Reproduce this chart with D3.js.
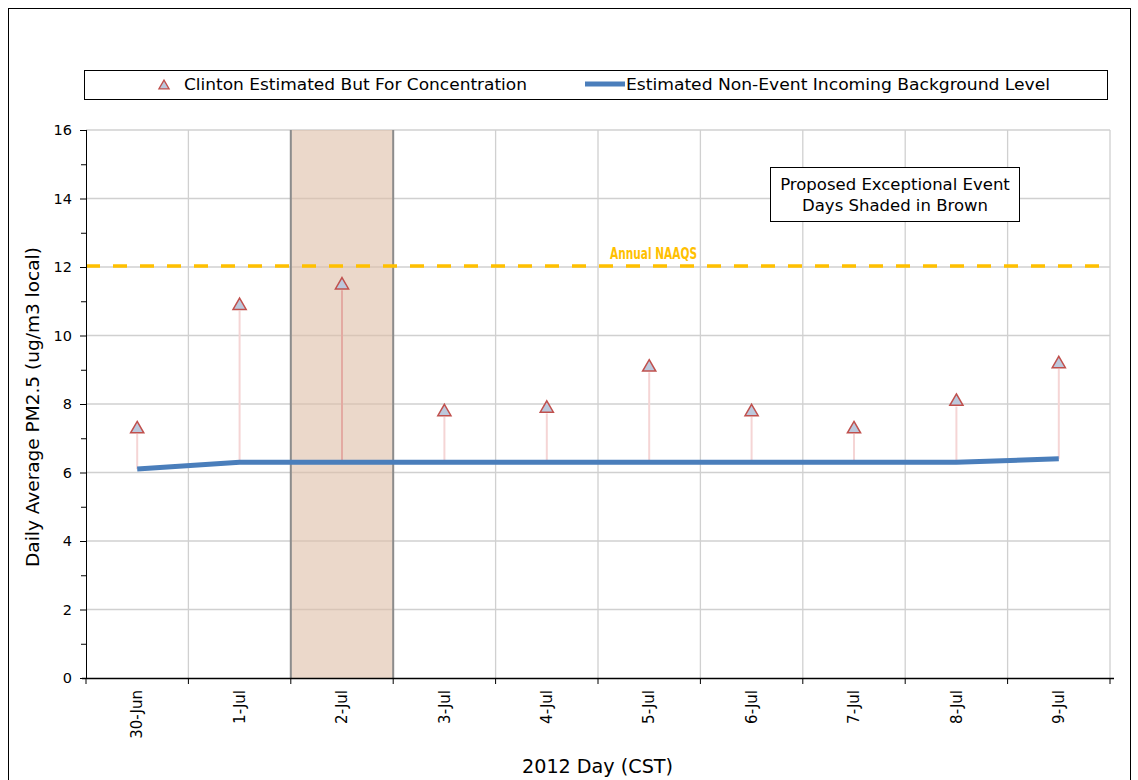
<!DOCTYPE html>
<html><head><meta charset="utf-8">
<script src="https://cdn.jsdelivr.net/npm/d3@7"></script>
<style>body{margin:0;background:#fff}svg{display:block}</style>
</head><body>
<svg id="c" width="1138" height="780"></svg>
<script>
const days = ["30-Jun","1-Jul","2-Jul","3-Jul","4-Jul","5-Jul","6-Jul","7-Jul","8-Jul","9-Jul"];
const butFor = [7.3, 10.9, 11.5, 7.8, 7.9, 9.1, 7.8, 7.3, 8.1, 9.2];
const background = [6.1, 6.3, 6.3, 6.3, 6.3, 6.3, 6.3, 6.3, 6.3, 6.4];
const eventDays = ["2-Jul"];
const naaqs = 12;
const yTicks = [0,2,4,6,8,10,12,14,16];

const svg = d3.select("#c");
const font = "Verdana, 'DejaVu Sans', sans-serif";
const cond = "'DejaVu Sans Condensed', 'DejaVu Sans', sans-serif";
const L = 86, R = 1110, T = 130, B = 678;

svg.append("rect").attr("x",8.5).attr("y",8.5).attr("width",1122).attr("height",790)
  .attr("fill","none").attr("stroke","#000").attr("stroke-width",1);

const x = d3.scaleBand().domain(days).range([L,R]).padding(0);
const y = d3.scaleLinear().domain([0,16]).range([B,T]);

// grid
svg.append("g").selectAll("line").data(yTicks.filter(d=>d>0)).join("line")
  .attr("x1",L).attr("x2",R).attr("y1",d=>y(d)).attr("y2",d=>y(d))
  .attr("stroke","#d0d0d0").attr("stroke-width",1.3);
svg.append("g").selectAll("line").data(d3.range(1,days.length+1)).join("line")
  .attr("x1",i=>L+i*x.bandwidth()).attr("x2",i=>L+i*x.bandwidth())
  .attr("y1",T).attr("y2",B).attr("stroke","#d0d0d0").attr("stroke-width",1.3);

// event shading
svg.append("g").selectAll("rect").data(eventDays).join("rect")
  .attr("x",d=>x(d)).attr("y",T).attr("width",x.bandwidth()).attr("height",B-T)
  .attr("fill","rgba(222,190,166,0.6)");
svg.append("g").selectAll("g").data(eventDays).join("g").each(function(d){
  const g = d3.select(this);
  [x(d), x(d)+x.bandwidth()].forEach(px=>g.append("line").attr("x1",px).attr("x2",px)
    .attr("y1",T).attr("y2",B).attr("stroke","#8c8c8c").attr("stroke-width",2));
});

// NAAQS
svg.append("line").attr("x1",L).attr("x2",R).attr("y1",y(naaqs)-1).attr("y2",y(naaqs)-1)
  .attr("stroke","#ffc000").attr("stroke-width",3.5).attr("stroke-dasharray","14,13");
svg.append("text").attr("x",610).attr("y",y(naaqs)-8)
  .attr("font-family",cond).attr("font-weight","bold").attr("font-size",15)
  .attr("textLength",87).attr("lengthAdjust","spacingAndGlyphs")
  .attr("fill","#ffc000").text("Annual NAAQS");

// drop lines
const cx = d => x(d)+x.bandwidth()/2;
svg.append("g").selectAll("line").data(days).join("line")
  .attr("x1",cx).attr("x2",cx)
  .attr("y1",(d,i)=>y(butFor[i])+6).attr("y2",(d,i)=>y(background[i]))
  .attr("stroke",d=>eventDays.includes(d)?"#e3aaa2":"#f5d5d5").attr("stroke-width",2);

// background line
svg.append("path").datum(days).attr("fill","none")
  .attr("stroke","#4a7ebb").attr("stroke-width",5)
  .attr("d",d3.line().x(cx).y((d,i)=>y(background[i])));

// triangles
const tri = d3.symbol().type(d3.symbolTriangle).size(75);
svg.append("g").selectAll("path").data(days).join("path")
  .attr("d",tri).attr("transform",(d,i)=>`translate(${cx(d)},${y(butFor[i])+1})`)
  .attr("fill","#bcc8dc").attr("stroke","#c0504d").attr("stroke-width",1.5);

// axes
const yAxis = svg.append("g").attr("transform",`translate(${L},0)`)
  .call(d3.axisLeft(y).tickValues(yTicks).tickSize(6).tickPadding(8).tickFormat(d3.format("d")));
yAxis.append("g").selectAll("line").data(d3.range(1,16,2)).join("line")
  .attr("x1",-5).attr("x2",0).attr("y1",d=>y(d)+0.5).attr("y2",d=>y(d)+0.5).attr("stroke","#000");
yAxis.selectAll("text").attr("font-family",font).attr("font-size",14.5).attr("fill","#000");
yAxis.select(".domain").attr("d",`M0.5,${T}V${B}`);

const xAxis = svg.append("g").attr("transform",`translate(0,${B})`)
  .call(d3.axisBottom(x).tickSize(0).tickPadding(0));
xAxis.select(".domain").attr("d",`M${L-4},0.5H${R+4}`).attr("stroke-width",1.5);
xAxis.selectAll(".tick line").remove();
xAxis.selectAll(".tick text").attr("transform","rotate(-90)").attr("text-anchor","end")
  .attr("x",-12).attr("y",0).attr("dy","0.35em")
  .attr("font-family",font).attr("font-size",15).attr("fill","#000");
svg.append("g").selectAll("line").data(d3.range(days.length+1)).join("line")
  .attr("x1",i=>L+i*x.bandwidth()).attr("x2",i=>L+i*x.bandwidth())
  .attr("y1",B).attr("y2",B+6).attr("stroke","#000");

// axis titles
svg.append("text").attr("transform",`translate(39,${(T+B)/2+3}) rotate(-90)`)
  .attr("text-anchor","middle").attr("font-family",font).attr("font-size",18.5)
  .text("Daily Average PM2.5 (ug/m3 local)");
svg.append("text").attr("x",522).attr("y",773)
  .attr("font-family",cond).attr("font-size",20)
  .attr("textLength",151).attr("lengthAdjust","spacingAndGlyphs").text("2012 Day (CST)");

// legend
const lg = svg.append("g");
lg.append("rect").attr("x",84.5).attr("y",70.5).attr("width",1023).attr("height",29)
  .attr("fill","#fff").attr("stroke","#000").attr("stroke-width",1);
lg.append("path").attr("d",d3.symbol().type(d3.symbolTriangle).size(45))
  .attr("transform","translate(164,86)").attr("fill","#bcc8dc").attr("stroke","#c0504d").attr("stroke-width",1.3);
lg.append("text").attr("x",184).attr("y",89.5).attr("font-family",cond)
  .attr("font-size",16).attr("textLength",343).attr("lengthAdjust","spacingAndGlyphs")
  .text("Clinton Estimated But For Concentration");
lg.append("line").attr("x1",585).attr("x2",625).attr("y1",84).attr("y2",84)
  .attr("stroke","#4a7ebb").attr("stroke-width",5);
lg.append("text").attr("x",626).attr("y",89.5).attr("font-family",cond)
  .attr("font-size",16).attr("textLength",424).attr("lengthAdjust","spacingAndGlyphs")
  .text("Estimated Non-Event Incoming Background Level");

// annotation
const an = svg.append("g");
an.append("rect").attr("x",770.5).attr("y",167.5).attr("width",249).attr("height",54)
  .attr("fill","#fff").attr("stroke","#000").attr("stroke-width",1);
an.append("text").attr("x",895).attr("y",189.5).attr("text-anchor","middle")
  .attr("font-family",font).attr("font-size",16.5).text("Proposed Exceptional Event");
an.append("text").attr("x",895).attr("y",210.5).attr("text-anchor","middle")
  .attr("font-family",font).attr("font-size",16.5).text("Days Shaded in Brown");
</script>
</body></html>
